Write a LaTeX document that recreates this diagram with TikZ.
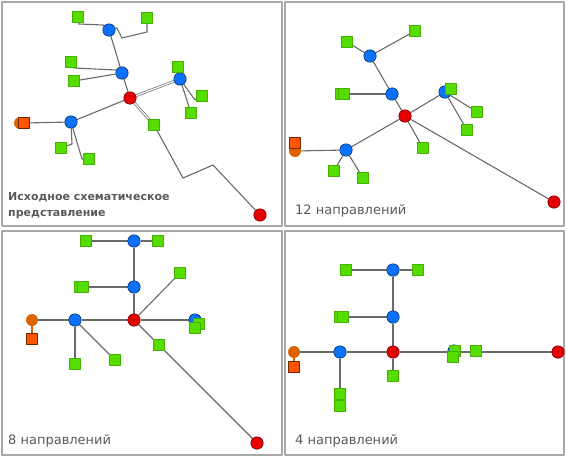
\documentclass[tikz,border=0pt]{standalone}
\usepackage{fontspec}
\newfontfamily\capfont{DejaVu Sans}
\usetikzlibrary{backgrounds}
\definecolor{hubblue}{HTML}{0A72FF}
\definecolor{rootred}{HTML}{E60000}
\definecolor{leafgreen}{HTML}{55DD00}
\definecolor{leafedge}{HTML}{46B000}
\definecolor{srcorange}{HTML}{FF5500}
\definecolor{srcdark}{HTML}{DD6200}
\definecolor{linkgray}{HTML}{6A6A6A}
\definecolor{framegray}{HTML}{A8A8A8}
\definecolor{capgray}{HTML}{5A5A5A}
\begin{document}
\begin{tikzpicture}[x=1pt,y=-1pt,line join=round,line cap=round]
	\tikzset{
		hub/.style={circle,fill=hubblue,draw=black!70!hubblue,line width=.5pt,minimum size=12.5pt,inner sep=0pt},
		root/.style={circle,fill=rootred,draw=black!60!rootred,line width=.5pt,minimum size=12.5pt,inner sep=0pt},
		leaf/.style={rectangle,fill=leafgreen,draw=leafedge,line width=.6pt,minimum size=10.5pt,inner sep=0pt},
		srcbox/.style={rectangle,fill=srcorange,draw=black!55!srcorange,line width=.6pt,minimum size=10.5pt,inner sep=0pt},
		srcdot/.style={circle,fill=srcdark,minimum size=12pt,inner sep=0pt},
		link/.style={draw=linkgray,line width=1.1pt},
		twin/.style={link,double=white,double distance=1.2pt,line width=.7pt},
		frame/.style={draw=framegray,line width=2.5pt},
		caption/.style={anchor=west,text=capgray,font=\capfont\fontsize{13}{16}\selectfont,inner sep=0pt,align=left}
	}
	\useasboundingbox (0,0) rectangle (567,458);
	% frames
	\draw[frame] (2,2) rectangle (282,226);
	\draw[frame] (285,2) rectangle (564,226);
	\draw[frame] (2,231) rectangle (282,455);
	\draw[frame] (285,231) rectangle (564,455);
	% source points
	\foreach \n/\x/\y in {A-oc/20/123,B-oc/295/151,C-oc/32/320,D-oc/294/352}{
		\node[srcdot] (\n) at (\x,\y) {};
	}
	\foreach \n/\x/\y in {A-os/24/123,B-os/295/143,C-os/32/339,D-os/294/367}{
		\node[srcbox] (\n) at (\x,\y) {};
	}
	% hubs
	\foreach \n/\x/\y in {A-bt/109/30,A-bm/122/73,A-br/180/79,A-bl/71/122,
		B-bt/370/56,B-bm/392/94,B-br/445/92,B-bl/346/150,
		C-bt/134/241,C-bm/134/287,C-br/195/320,C-bl/75/320,
		D-bt/393/270,D-bm/393/317,D-br/454/351,D-bl/340/352}{
		\node[hub] (\n) at (\x,\y) {};
	}
	% roots
	\foreach \n/\x/\y in {A-r/130/98,A-rr/260/215,B-r/405/116,B-rr/554/202,
		C-r/134/320,C-rr/257/443,D-r/393/352,D-rr/558/352}{
		\node[root] (\n) at (\x,\y) {};
	}
	% leaves
	\foreach \n/\x/\y in {A-g1/78/17,A-g2/147/18,A-g3/71/62,A-g4/74/81,A-g5/178/67,A-g6/202/96,A-g7/191/113,A-g8/61/148,A-g9/89/159,A-g10/154/125,
		B-g1/347/42,B-g2/415/31,B-g3b/341/94,B-g3/344/94,B-g4/451/89,B-g5/477/112,B-g6/467/130,B-g7/423/148,B-g8/334/171,B-g9/363/178,
		C-g1/86/241,C-g2/158/241,C-g3b/80/287,C-g3/83/287,C-g4/180/273,C-g5/199/324,C-g6/195/328,C-g7/159/345,C-g8/75/364,C-g9/115/360,
		D-g1/346/270,D-g2/418/270,D-g3b/340/317,D-g3/343/317,D-g4/455/351,D-g5/453/357,D-g6/476/351,D-g7/393/376,D-g8/340/394,D-g9/340/406}{
		\node[leaf] (\n) at (\x,\y) {};
	}
	\begin{scope}[on background layer]
		% original layout
		\draw[link] (A-g1) -- (79,24) -- (103,25) -- (A-bt);
		\draw[link] (A-g2) -- (147,32) -- (122,38) -- (117,28) -- (A-bt);
		\draw[link] (A-bt) -- (A-bm);
		\draw[link] (A-g3) -- (74,68) -- (116,70) -- (A-bm);
		\draw[link] (A-g4) -- (A-bm);
		\draw[link] (A-bm) -- (A-r);
		\draw[twin] (A-r) -- (A-br);
		\draw[link] (A-br) -- (195,100) -- (A-g6);
		\draw[link] (A-br) -- (A-g7);
		\draw[twin] (A-r) -- (A-g10);
		\draw[link] (A-g10) -- (183,178) -- (213,165) -- (A-rr);
		\draw[link] (A-r) -- (A-bl);
		\draw[link] (A-bl) -- (A-os);
		\draw[link] (A-bl) -- (72,144) -- (A-g8);
		\draw[link] (A-bl) -- (82,159) -- (A-g9);
		% 12 directions
		\foreach \a/\b in {B-bt/B-g1,B-bt/B-g2,B-bt/B-bm,B-bm/B-g3b,B-bm/B-r,B-r/B-br,B-br/B-g5,B-br/B-g6,
			B-r/B-g7,B-r/B-bl,B-r/B-rr,B-bl/B-oc,B-bl/B-g8,B-bl/B-g9}{
			\draw[link] (\a) -- (\b);
		}
		% 8 directions
		\foreach \a/\b in {C-bt/C-g1,C-bt/C-g2,C-bt/C-bm,C-bm/C-g3b,C-bm/C-r,C-r/C-g4,C-r/C-br,
			C-r/C-bl,C-r/C-rr,C-bl/C-oc,C-bl/C-g8,C-bl/C-g9}{
			\draw[link] (\a) -- (\b);
		}
		\draw[draw=srcdark,line width=1.1pt] (C-oc) -- (C-os);
		% 4 directions
		\foreach \a/\b in {D-bt/D-g1,D-bt/D-g2,D-bt/D-bm,D-bm/D-g3b,D-bm/D-r,D-r/D-bl,D-r/D-rr,
			D-r/D-g7,D-bl/D-oc,D-bl/D-g9}{
			\draw[link] (\a) -- (\b);
		}
		\draw[draw=srcdark,line width=1.1pt] (D-oc) -- (D-os);
	\end{scope}
	% captions
	\node[caption,font=\capfont\bfseries\fontsize{11}{16}\selectfont] (capA) at (8,206) {Исходное схематическое\\представление};
	\node[caption] (capB) at (295,211) {12 направлений};
	\node[caption] (capC) at (8,441) {8 направлений};
	\node[caption] (capD) at (295,441) {4 направлений};
\end{tikzpicture}
\end{document}
